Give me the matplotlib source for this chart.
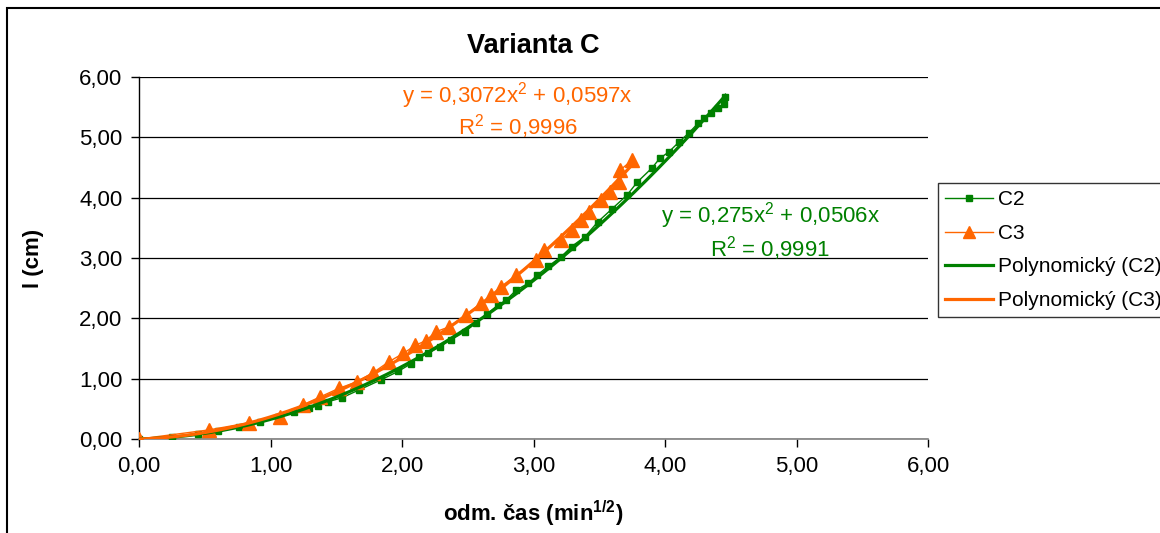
import numpy as np
import matplotlib
matplotlib.use("Agg")
import matplotlib.pyplot as plt
from matplotlib.ticker import FuncFormatter, MultipleLocator
from matplotlib.patches import Rectangle

plt.rcParams['font.family'] = ['Liberation Sans', 'DejaVu Sans']

# data (x = sqrt of time, y = length in cm)
c2_x = [0.00, 0.25, 0.45, 0.60, 0.76, 0.92, 1.06, 1.18, 1.29, 1.36, 1.44, 1.54, 1.67,
        1.84, 1.97, 2.07, 2.13, 2.20, 2.29, 2.37, 2.48, 2.56, 2.65, 2.73, 2.79, 2.87,
        2.96, 3.03, 3.11, 3.21, 3.29, 3.39, 3.49, 3.60, 3.71, 3.79, 3.90, 3.96, 4.03,
        4.11, 4.18, 4.25, 4.30, 4.35, 4.40, 4.45, 4.46]
c2_y = [0.00, 0.03, 0.08, 0.14, 0.20, 0.28, 0.37, 0.44, 0.51, 0.55, 0.62, 0.68, 0.81,
        0.98, 1.12, 1.25, 1.36, 1.42, 1.53, 1.64, 1.78, 1.92, 2.08, 2.22, 2.30, 2.47,
        2.58, 2.72, 2.86, 3.02, 3.19, 3.35, 3.60, 3.82, 4.04, 4.26, 4.49, 4.65, 4.76,
        4.93, 5.07, 5.23, 5.32, 5.40, 5.48, 5.56, 5.67]

c3_x = [0.00, 0.53, 0.84, 1.07, 1.25, 1.38, 1.52, 1.66, 1.78, 1.90, 2.01, 2.10, 2.18,
        2.26, 2.36, 2.49, 2.60, 2.68, 2.75, 2.87, 3.02, 3.08, 3.21, 3.29, 3.36, 3.42,
        3.51, 3.58, 3.65, 3.66, 3.75]
c3_y = [0.00, 0.15, 0.27, 0.37, 0.57, 0.70, 0.84, 0.95, 1.10, 1.28, 1.42, 1.55, 1.63,
        1.78, 1.86, 2.06, 2.25, 2.39, 2.52, 2.72, 2.97, 3.13, 3.30, 3.46, 3.63, 3.77,
        3.96, 4.10, 4.26, 4.46, 4.62]

# trendline coefficients (a*x^2 + b*x) from the chart labels
c2_coef = (0.275, 0.0506)
c3_coef = (0.3072, 0.0597)

green = '#008000'
orange = '#FF6600'

fig = plt.figure(figsize=(11.6, 5.33), dpi=100)
ax = fig.add_axes([139/1160, 94/533, 789/1160, 362/533])

# outer chart border
fig.patches.append(Rectangle((7/1160, -0.1), 1.2, (525/533) + 0.1, transform=fig.transFigure,
                             fill=False, edgecolor='black', lw=1.5, zorder=0))

ax.plot(c2_x, c2_y, color=green, lw=1, marker='s', ms=5, mec=green, label='C2', zorder=3)
ax.plot(c3_x, c3_y, color=orange, lw=1, marker='^', ms=10, mec=orange, label='C3', zorder=4)

xx2 = np.linspace(0, max(c2_x), 200)
ax.plot(xx2, c2_coef[0]*xx2**2 + c2_coef[1]*xx2, color=green, lw=2.3,
        label='Polynomický (C2)', zorder=5)
xx3 = np.linspace(0, max(c3_x), 200)
ax.plot(xx3, c3_coef[0]*xx3**2 + c3_coef[1]*xx3, color=orange, lw=2.3,
        label='Polynomický (C3)', zorder=5)

ax.set_xlim(0, 6)
ax.set_ylim(0, 6)
ax.xaxis.set_major_locator(MultipleLocator(1))
ax.yaxis.set_major_locator(MultipleLocator(1))
fmt = FuncFormatter(lambda v, p: f'{v:.2f}'.replace('.', ','))
ax.xaxis.set_major_formatter(fmt)
ax.yaxis.set_major_formatter(fmt)
ax.tick_params(labelsize=16, length=6, width=1, direction='out', pad=6)
ax.yaxis.grid(True, color='black', lw=0.9)
ax.set_axisbelow(True)
for s in ['top', 'right']:
    ax.spines[s].set_visible(False)
ax.spines['left'].set_linewidth(1)
ax.spines['bottom'].set_color('#808080')
ax.spines['bottom'].set_linewidth(1.2)

ax.set_title('Varianta C', fontsize=19.5, fontweight='bold', pad=17)
ax.set_xlabel('odm. čas (min$^{\\mathregular{1/2}}$)', fontsize=16, fontweight='bold', labelpad=16)
ax.set_ylabel('l (cm)', fontsize=16, fontweight='bold', labelpad=25)

ax.text(2.88, 5.70, 'y = 0,3072x$^{\\mathregular{2}}$ + 0,0597x', color=orange, fontsize=16,
        ha='center', va='center')
ax.text(2.88, 5.18, 'R$^{\\mathregular{2}}$ = 0,9996', color=orange, fontsize=16,
        ha='center', va='center')
ax.text(4.80, 3.70, 'y = 0,275x$^{\\mathregular{2}}$ + 0,0506x', color=green, fontsize=16,
        ha='center', va='center')
ax.text(4.80, 3.15, 'R$^{\\mathregular{2}}$ = 0,9991', color=green, fontsize=16,
        ha='center', va='center')

leg = fig.legend(loc='upper left', bbox_to_anchor=(938/1160, 1 - 183/533), fontsize=15,
                 frameon=True, fancybox=False, edgecolor='black', handlelength=2.3,
                 handletextpad=0.25, borderpad=0.35, labelspacing=0.7, borderaxespad=0)
leg.get_frame().set_linewidth(1)
for h in leg.legend_handles[:2]:
    h.set_markersize(h.get_markersize() * 0.9)

fig.savefig('out.png', dpi=100)
